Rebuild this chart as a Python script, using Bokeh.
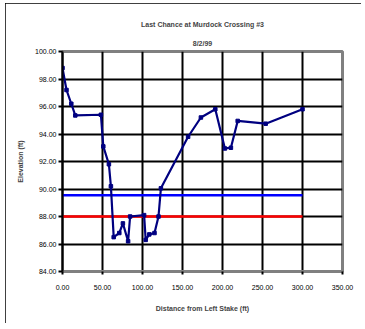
from bokeh.plotting import figure
from bokeh.models import Range1d, FixedTicker, NumeralTickFormatter, Title
from bokeh.embed import file_html
from bokeh.resources import INLINE

# ---- data ----
distance = [0, 5, 11, 16, 48, 51, 58, 60.5, 64, 71, 75.5, 82, 84.5, 102, 104,
            108.5, 115, 120, 123, 157, 173, 191, 203, 210.5, 219, 254, 300]
elevation = [98.8, 97.2, 96.2, 95.35, 95.4, 93.1, 91.8, 90.2, 86.5, 86.8, 87.5,
             86.2, 88.0, 88.1, 86.3, 86.7, 86.8, 88.0, 90.05, 93.8, 95.2, 95.8,
             92.95, 93.0, 94.95, 94.75, 95.8]
blue_x = [0, 300]
blue_y = [89.55, 89.55]
red_x = [0, 300]
red_y = [88.0, 88.0]
x_ticks = [0, 50, 100, 150, 200, 250, 300, 350]
y_ticks = [84, 86, 88, 90, 92, 94, 96, 98, 100]
title_text = "Last Chance at Murdock Crossing #3"
subtitle_text = "8/2/99"
x_title = "Distance from Left Stake (ft)"
y_title = "Elevation (ft)"

FONT = "Liberation Sans"

p = figure(width=356, height=320, output_backend="svg", toolbar_location=None,
           x_range=Range1d(0, 350), y_range=Range1d(84, 100),
           min_border_left=57, min_border_right=19, min_border_top=48, min_border_bottom=52,
           title=title_text)
p.styles = {"position": "absolute", "left": "5px", "top": "3px",
            "outline": "2.5px solid black", "outline-offset": "-2.5px"}

p.title.align = "center"
p.title.text_font = FONT
p.title.text_font_size = "7px"
p.title.text_font_style = "bold"
p.title.standoff = 9

date_title = Title(text=subtitle_text, align="center", text_font=FONT, text_font_size="7px",
                   text_font_style="bold", standoff=10)
p.add_layout(date_title, "above")

p.background_fill_color = "white"
p.border_fill_color = "white"
p.outline_line_color = "#808080"
p.outline_line_width = 3

# grids
p.xgrid.ticker = FixedTicker(ticks=x_ticks)
p.ygrid.ticker = FixedTicker(ticks=y_ticks)
for g in (p.xgrid, p.ygrid):
    g.grid_line_color = "black"
    g.grid_line_width = 2
    g.grid_line_alpha = 1

# axes
p.xaxis.ticker = FixedTicker(ticks=x_ticks)
p.yaxis.ticker = FixedTicker(ticks=y_ticks)
p.xaxis.formatter = NumeralTickFormatter(format="0.00")
p.yaxis.formatter = NumeralTickFormatter(format="0.00")
for ax in (p.xaxis, p.yaxis):
    ax.major_label_text_font = FONT
    ax.major_label_text_font_size = "7px"
    ax.major_label_text_color = "black"
    ax.axis_label_text_font = FONT
    ax.axis_label_text_font_size = "7px"
    ax.axis_label_text_font_style = "bold"
    ax.minor_tick_line_color = None
    ax.major_tick_line_color = "black"
    ax.major_tick_line_width = 2
    ax.major_tick_in = 0
p.xaxis.axis_label = x_title
p.yaxis.axis_label = y_title
p.yaxis.axis_line_color = "black"
p.yaxis.axis_line_width = 2
p.xaxis.axis_line_color = "#808080"
p.xaxis.axis_line_width = 3
p.yaxis.major_tick_out = 4
p.yaxis.major_label_standoff = 2
p.yaxis.axis_label_standoff = 8
p.xaxis.major_tick_out = 3
p.xaxis.major_label_standoff = 10
p.xaxis.axis_label_standoff = 12

# reference lines
p.line(blue_x, blue_y, line_color="#0000FF", line_width=2.5)
p.line(red_x, red_y, line_color="#FF0000", line_width=2.5)

# profile
p.line(distance, elevation, line_color="#000080", line_width=2.2)
p.scatter(distance, elevation, marker="square", size=3.5, fill_color="#000080",
          line_color="#000080")

open("out.html", "w").write(file_html(p, INLINE))
